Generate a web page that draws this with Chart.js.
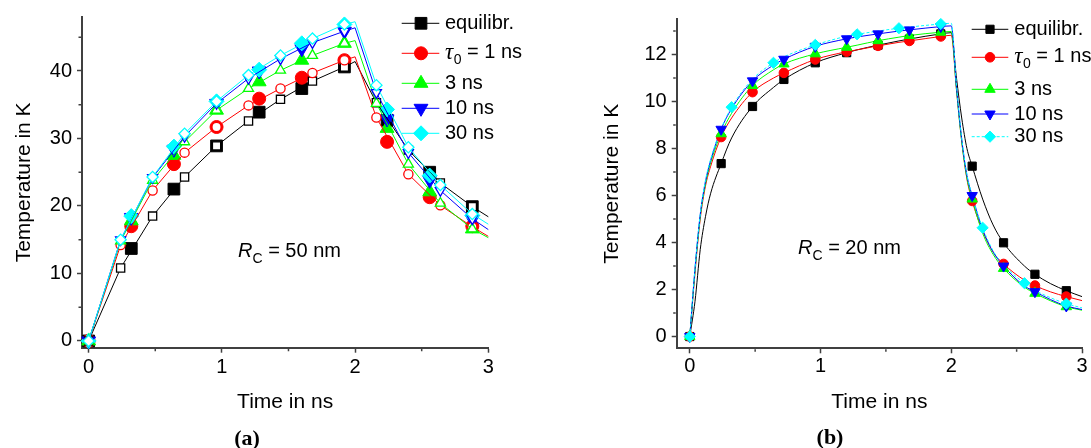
<!DOCTYPE html>
<html><head><meta charset="utf-8">
<script src="https://cdn.jsdelivr.net/npm/chart.js@4.4.0/dist/chart.umd.min.js"></script>
<style>
html,body{margin:0;padding:0;background:#fff;}
#wrap{position:relative;width:1091px;height:448px;overflow:hidden;background:#fff;}
canvas{position:absolute;top:0;}
#ca{left:0;width:545px;height:448px;}
#cb{left:545px;width:546px;height:448px;}
.ann{position:absolute;font-family:"Liberation Sans",Arial,sans-serif;font-size:20px;line-height:1;color:#000;white-space:nowrap;}
.ann .sub{font-size:14px;position:relative;top:6px;}
.pan{position:absolute;font-family:"Liberation Serif","Times New Roman",serif;font-weight:bold;font-size:22px;line-height:1;color:#000;transform:translate(-50%,-50%);}
</style></head>
<body>
<div id="wrap">
<canvas id="ca" width="545" height="448"></canvas>
<canvas id="cb" width="546" height="448"></canvas>
<div class="ann" style="left:238px;top:240px"><i>R</i><span class="sub">C</span> = 50 nm</div>
<div class="ann" style="left:798px;top:237px"><i>R</i><span class="sub">C</span> = 20 nm</div>
<div class="pan" style="left:247px;top:438px">(a)</div>
<div class="pan" style="left:830px;top:437px">(b)</div>
</div>
<script>
// ---------- tick definitions ----------
const aXTicks = [0, 1, 2, 3];
const aXMinor = [0.5, 1.5, 2.5];
const aYTicks = [0, 10, 20, 30, 40];
const aYMinor = [5, 15, 25, 35, 45];
const bXTicks = [0, 1, 2, 3];
const bXMinor = [0.5, 1.5, 2.5];
const bYTicks = [0, 2, 4, 6, 8, 10, 12];
const bYMinor = [1, 3, 5, 7, 9, 11, 13];

const seriesLabels = ['equilibr.', 'τ0 = 1 ns', '3 ns', '10 ns', '30 ns'];

// ---------- panel (a): R_C = 50 nm ----------
const aLineTimes = [0, 0.24, 0.48, 0.72, 0.96, 1.2, 1.44, 1.68, 1.92, 2.0, 2.16, 2.4, 2.64, 2.88, 3.0];
const aOpenMarkTimes = [0, 0.24, 0.48, 0.72, 0.96, 1.2, 1.44, 1.68, 1.92, 2.16, 2.4, 2.64, 2.88];
const aEqLine  = [0, 10.8, 18.5, 24.3, 28.9, 32.6, 35.8, 38.5, 40.6, 41.4, 35.3, 28.3, 23.4, 19.9, 18.4];
const aT1Line  = [0, 14.2, 22.3, 27.9, 31.7, 34.9, 37.4, 39.7, 41.6, 42.1, 33.1, 24.7, 20.1, 16.9, 15.5];
const aT3Line  = [0, 14.8, 23.8, 29.5, 34.2, 37.4, 40.1, 42.3, 44.1, 44.5, 35.2, 26.2, 20.4, 16.6, 15.3];
const aT10Line = [0, 15.0, 24.2, 30.3, 35.2, 38.9, 41.8, 44.2, 45.9, 46.4, 36.8, 27.9, 22.3, 18.1, 16.5];
const aT30Line = [0, 15.0, 24.3, 30.7, 35.5, 39.4, 42.3, 44.8, 46.9, 47.3, 37.9, 28.7, 23.1, 18.8, 17.3];

const aMarkTimes = [0, 0.32, 0.64, 0.96, 1.28, 1.6, 1.92, 2.24, 2.56, 2.88];
const aEqMark  = [0, 13.7, 22.5, 28.9, 33.9, 37.4, 40.6, 32.7, 25.0, 19.9];
const aT1Mark  = [0, 17.0, 26.2, 31.7, 35.9, 39.0, 41.6, 29.5, 21.3, 17.0];
const aT3Mark  = [0, 17.8, 27.5, 34.2, 38.4, 41.6, 44.1, 31.5, 22.1, 16.6];
const aT10Mark = [0, 18.3, 28.4, 35.2, 40.0, 43.3, 45.9, 32.9, 23.8, 18.0];
const aT30Mark = [0, 18.5, 28.8, 35.5, 40.2, 44.1, 46.9, 34.3, 24.5, 18.6];

// ---------- panel (b): R_C = 20 nm ----------
const bTimes = [0, 0.04, 0.08, 0.12, 0.16, 0.24, 0.32, 0.48, 0.64, 0.72, 0.96, 1.2, 1.28, 1.44, 1.6, 1.68, 1.92, 2.0, 2.04, 2.08, 2.12, 2.16, 2.24, 2.32, 2.4, 2.56, 2.64, 2.76, 2.88, 3.0];
const bEq  = [0, 1.5, 3.7, 5.1, 6.1, 7.36, 8.45, 9.79, 10.6, 10.94, 11.65, 12.08, 12.2, 12.4, 12.58, 12.66, 12.88, 12.93, 11.0, 9.3, 8.0, 7.25, 5.85, 4.75, 3.99, 3.0, 2.65, 2.25, 1.95, 1.7];
const bT1  = [0, 2.7, 5.0, 6.4, 7.25, 8.49, 9.3, 10.4, 11.0, 11.22, 11.79, 12.12, 12.2, 12.37, 12.52, 12.58, 12.77, 12.82, 10.5, 8.3, 6.7, 5.77, 4.5, 3.6, 3.09, 2.4, 2.17, 1.9, 1.7, 1.53];
const bT3  = [0, 2.8, 5.1, 6.5, 7.4, 8.63, 9.5, 10.68, 11.35, 11.6, 12.03, 12.31, 12.4, 12.59, 12.74, 12.81, 12.95, 12.98, 10.5, 8.3, 6.75, 5.85, 4.4, 3.5, 2.9, 2.1, 1.84, 1.52, 1.27, 1.12];
const bT10 = [0, 2.9, 5.2, 6.6, 7.5, 8.82, 9.7, 10.88, 11.55, 11.8, 12.35, 12.67, 12.75, 12.88, 13.0, 13.05, 13.19, 13.22, 10.6, 8.4, 6.85, 6.0, 4.55, 3.6, 3.0, 2.15, 1.91, 1.57, 1.3, 1.15];
const bT30 = [0, 2.9, 5.2, 6.65, 7.55, 8.85, 9.76, 10.95, 11.65, 11.9, 12.41, 12.78, 12.86, 13.0, 13.12, 13.17, 13.3, 13.33, 10.7, 8.45, 6.9, 6.0, 4.63, 3.65, 3.05, 2.27, 1.97, 1.65, 1.4, 1.22];
const bMarkTimes = [0, 0.24, 0.48, 0.72, 0.96, 1.2, 1.44, 1.68, 1.92, 2.16, 2.4, 2.64, 2.88];
const bCyanMarkTimes = [0, 0.32, 0.64, 0.96, 1.28, 1.6, 1.92, 2.24, 2.56, 2.88];

// ---------- styles ----------
const FONT = '"Liberation Sans", Arial, Helvetica, sans-serif';
const AXC = '#404040';
const STY = [
  {color:'#000000', style:'rect'},
  {color:'#ff0000', style:'circle'},
  {color:'#00ff00', style:'triangle'},
  {color:'#0000ff', style:'triangleDown'},
  {color:'#00ffff', style:'rectRot'}
];
const A_FILL_R = {rect:8.3, circle:6.5, triangle:8, triangleDown:8, rectRot:7.5};
const A_OPEN_R = {rect:5.8, circle:4.6, triangle:5.8, triangleDown:5.8, rectRot:5.6};
const B_R = {rect:5.8, circle:4.8, triangle:6, triangleDown:6, rectRot:5.6};
const cs = s => s === 'triangleDown' ? 'triangle' : s;
const rot = s => s === 'triangleDown' ? 180 : 0;

Chart.defaults.font.family = FONT;
Chart.defaults.color = '#000';

function drawMarker(ctx, style, x, y, r, color){
  ctx.save(); ctx.beginPath();
  if (style === 'rect'){ const s = r*Math.SQRT1_2; ctx.rect(x-s, y-s, 2*s, 2*s); }
  else if (style === 'circle'){ ctx.arc(x, y, r, 0, Math.PI*2); }
  else if (style === 'triangle'){ ctx.moveTo(x, y-r); ctx.lineTo(x+0.866*r, y+0.5*r); ctx.lineTo(x-0.866*r, y+0.5*r); }
  else if (style === 'triangleDown'){ ctx.moveTo(x, y+r); ctx.lineTo(x+0.866*r, y-0.5*r); ctx.lineTo(x-0.866*r, y-0.5*r); }
  else if (style === 'rectRot'){ ctx.moveTo(x, y-r); ctx.lineTo(x+r, y); ctx.lineTo(x, y+r); ctx.lineTo(x-r, y); }
  ctx.closePath(); ctx.fillStyle = color; ctx.fill(); ctx.strokeStyle = color; ctx.lineWidth = 1; ctx.stroke();
  ctx.restore();
}
function drawLabel(ctx, lab, x, y){
  ctx.fillStyle = '#000'; ctx.textBaseline = 'middle'; ctx.textAlign = 'left';
  if (lab.startsWith('τ0')){
    ctx.font = 'italic 23px "Liberation Serif", serif';
    ctx.fillText('τ', x, y); x += ctx.measureText('τ').width + 0.5;
    ctx.font = '14px ' + FONT; ctx.fillText('0', x, y + 7); x += ctx.measureText('0').width;
    ctx.font = '20px ' + FONT; ctx.fillText(lab.slice(2), x, y - 1);
  } else {
    ctx.font = '20px ' + FONT; ctx.fillText(lab, x, y);
  }
}
function legendPlugin(cfg){
  return { id: 'lg', afterDraw(chart){
    const ctx = chart.ctx; ctx.save();
    seriesLabels.forEach((lab, i) => {
      const y = cfg.rows[i], s = STY[i];
      ctx.strokeStyle = s.color; ctx.lineWidth = 1;
      ctx.setLineDash(cfg.dashLast && i === 4 ? [3, 2] : []);
      ctx.beginPath(); ctx.moveTo(cfg.x0, y); ctx.lineTo(cfg.x1, y); ctx.stroke();
      ctx.setLineDash([]);
      drawMarker(ctx, s.style, cfg.xm, y, cfg.r[s.style], s.color);
      drawLabel(ctx, lab, cfg.xt, y);
    });
    ctx.restore();
  }};
}
function minorPlugin(xs, ys){
  return { id: 'minor', afterDraw(chart){
    const {ctx, chartArea: ca} = chart; const x = chart.scales.x, y = chart.scales.y;
    ctx.save(); ctx.strokeStyle = AXC; ctx.lineWidth = 1.5; ctx.beginPath();
    xs.forEach(v => { const p = x.getPixelForValue(v); ctx.moveTo(p, ca.bottom + 1); ctx.lineTo(p, ca.bottom + 3.5); });
    ys.forEach(v => { const p = y.getPixelForValue(v); ctx.moveTo(ca.left - 1, p); ctx.lineTo(ca.left - 3.5, p); });
    ctx.stroke(); ctx.restore();
  }};
}
function axes(p){
  return {
    x: { type:'linear', min:p.xmin, max:p.xmax,
      afterBuildTicks: s => { s.ticks = p.xTicks.map(v => ({value:v})); },
      afterFit: s => { s.height = p.xH; },
      grid: { display:true, drawOnChartArea:false, drawTicks:true, tickLength:5, tickColor:AXC, tickWidth:1.5 },
      border: { display:true, color:AXC, width:2 },
      ticks: { color:'#000', font:{size:20, family:FONT}, padding:p.xPad, maxRotation:0, autoSkip:false, callback: v => String(v) },
      title: { display:true, text:'Time in ns', color:'#000', font:{size:21, family:FONT}, padding:{top:0, bottom:33.5} }
    },
    y: { type:'linear', min:p.ymin, max:p.ymax,
      afterBuildTicks: s => { s.ticks = p.yTicks.map(v => ({value:v})); },
      afterFit: s => { s.width = p.yW; },
      grid: { display:true, drawOnChartArea:false, drawTicks:true, tickLength:5, tickColor:AXC, tickWidth:1.5 },
      border: { display:true, color:AXC, width:2 },
      ticks: { color:'#000', font:{size:20, family:FONT}, padding:5, autoSkip:false, callback: v => String(v) },
      title: { display:true, text:'Temperature in K', color:'#000', font:{size:21, family:FONT}, padding:{top:p.yTitlePad, bottom:0} }
    }
  };
}

// ---------- panel (a) datasets ----------
const aLines = [aEqLine, aT1Line, aT3Line, aT10Line, aT30Line];
const aMarks = [aEqMark, aT1Mark, aT3Mark, aT10Mark, aT30Mark];
const dsA = [];
STY.forEach((s, i) => {
  dsA.push({ data: aMarkTimes.map((t, k) => ({x:t, y:aMarks[i][k]})), showLine:false,
    pointStyle: cs(s.style), pointRotation: rot(s.style), pointRadius: A_FILL_R[s.style],
    pointBackgroundColor: s.color, pointBorderColor: s.color, pointBorderWidth: 1, order: 20 - i, clip: false });
  dsA.push({ data: aLineTimes.map((t, k) => ({x:t, y:aLines[i][k]})), showLine:true, borderColor: s.color, borderWidth: 1, tension: 0,
    pointStyle: cs(s.style), pointRotation: rot(s.style),
    pointRadius: c => aOpenMarkTimes.includes(aLineTimes[c.dataIndex]) ? A_OPEN_R[s.style] : 0,
    pointBackgroundColor: '#ffffff', pointBorderColor: s.color, pointBorderWidth: 1.3, order: 10 - i, clip: false, fill: false });
});
new Chart(document.getElementById('ca'), {
  type: 'scatter',
  data: { datasets: dsA },
  options: {
    responsive:false, animation:false, events:[],
    layout: { padding: { left:0, top:17, right:56.7, bottom:0 } },
    plugins: { legend:{display:false}, tooltip:{enabled:false} },
    scales: axes({xmin:-0.05, xmax:3, ymin:-1, ymax:48, xTicks:aXTicks, yTicks:aYTicks, xH:100.3, yW:82, xPad:3, yTitlePad:11.5})
  },
  plugins: [ minorPlugin(aXMinor, aYMinor),
    legendPlugin({ rows:[23.3, 53.3, 83.3, 108.3, 133.3], x0:401.7, x1:439.3, xm:421, xt:445, r:A_FILL_R, dashLast:false }) ]
});

// ---------- panel (b) datasets ----------
const bCurves = [bEq, bT1, bT3, bT10, bT30];
const dsB = [];
STY.forEach((s, i) => {
  dsB.push({ data: bTimes.map((t, k) => ({x:t, y:bCurves[i][k]})), showLine:true, borderColor: s.color, borderWidth: 1,
    borderDash: i === 4 ? [3, 2] : [], cubicInterpolationMode: 'monotone', pointRadius: 0, order: 20 - i, clip: false, fill: false });
  const mt = i === 4 ? bCyanMarkTimes : bMarkTimes;
  dsB.push({ data: mt.map(t => ({x:t, y:bCurves[i][bTimes.indexOf(t)]})), showLine:false,
    pointStyle: cs(s.style), pointRotation: rot(s.style), pointRadius: B_R[s.style],
    pointBackgroundColor: s.color, pointBorderColor: s.color, pointBorderWidth: 1, order: 10 - i, clip: false });
});
new Chart(document.getElementById('cb'), {
  type: 'scatter',
  data: { datasets: dsB },
  options: {
    responsive:false, animation:false, events:[],
    layout: { padding: { left:40, top:19.3, right:9, bottom:0 } },
    plugins: { legend:{display:false}, tooltip:{enabled:false} },
    scales: axes({xmin:-0.1, xmax:3, ymin:-0.5, ymax:13.5, xTicks:bXTicks, yTicks:bYTicks, xH:99.7, yW:91.7, xPad:1, yTitlePad:14.2})
  },
  plugins: [ minorPlugin(bXMinor, bYMinor),
    legendPlugin({ rows:[29.3, 57.3, 89.3, 114, 136.7], x0:426.7, x1:463.3, xm:445, xt:469.3, r:B_R, dashLast:true }) ]
});
</script>
</body></html>
